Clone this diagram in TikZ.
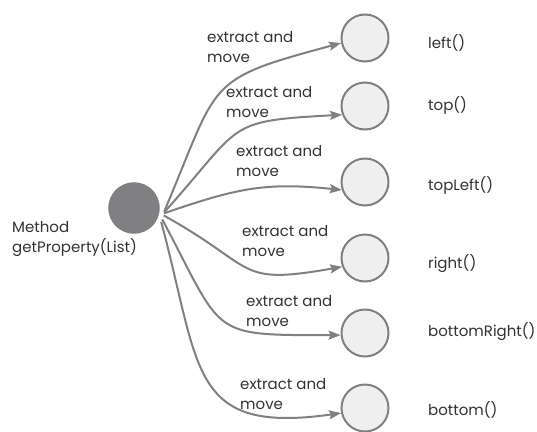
\documentclass[tikz,border=0pt]{standalone}
\usepackage{fontspec}
\setmainfont{Poppins}
\usepackage{xcolor}
\usetikzlibrary{positioning, arrows.meta}
\definecolor{edgegray}{RGB}{128, 128, 130}
\definecolor{nodefill}{RGB}{239, 239, 239}
\definecolor{dark}{RGB}{50, 50, 50}

\begin{document}
\begin{tikzpicture}[
        x=1pt, y=-1pt,
        source/.style={circle, fill=edgegray, draw=edgegray, minimum size=51pt, inner sep=0pt, outer sep=5pt},
        target/.style={circle, fill=nodefill, draw=edgegray, line width=2pt, minimum size=47pt, inner sep=0pt},
        label/.style={text=dark, font=\fontsize{15}{20.5}\selectfont, align=left, inner sep=0pt, anchor=base west},
        arrow/.style={-{Stealth[length=12pt, width=9pt, inset=2pt]}, line width=2pt, edgegray, looseness=1.5}
    ]
        \useasboundingbox (0,0) rectangle (537,431);

        \node (method) [source] at (134,208) {};
        % two-line labels: base is the last line
        \node (methodtext) [label] at (12,252.5) {Method\\getProperty(List)};

        \node (left) [target] at (365,38) {};
        \node (top) [target] at (365,106) {};
        \node (topleft) [target] at (365,182) {};
        \node (right) [target] at (365,258) {};
        \node (bottomright) [target] at (365,333) {};
        \node (bottom) [target] at (365,408) {};

        \node (lefttext) [label] at (428,48) {left()};
        \node (toptext) [label] at (428,110) {top()};
        \node (toplefttext) [label] at (428,190) {topLeft()};
        \node (righttext) [label] at (428,268) {right()};
        \node (bottomrighttext) [label] at (428,336) {bottomRight()};
        \node (bottomtext) [label] at (428,415) {bottom()};

        \node (lbl1) [label] at (207,62.5) {extract and\\move};
        \node (lbl2) [label] at (226,117.5) {extract and\\move};
        \node (lbl3) [label] at (236,176.5) {extract and\\move};
        \node (lbl4) [label] at (242,256.5) {extract and\\move};
        \node (lbl5) [label] at (246,326.5) {extract and\\move};
        \node (lbl6) [label] at (240,409.5) {extract and\\move};

        \draw[arrow] (method.-6) to[out=67, in=195] (left.192);
        \draw[arrow] (method.-8) to[out=48, in=183] (top.201);
        \draw[arrow, looseness=1.1] (method.-10) to[out=19, in=174] (topleft.199);
        \draw[arrow] (method.-14) to[out=-29, in=190] (right.201);
        \draw[arrow, looseness=1.6] (method.-22) to[out=-62, in=180] (bottomright.185);
        \draw[arrow] (method.-27) to[out=-75, in=188] (bottom.192);
    \end{tikzpicture}
\end{document}
